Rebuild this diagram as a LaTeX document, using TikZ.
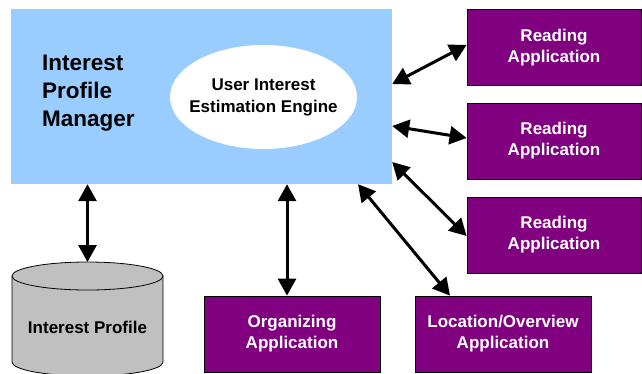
\documentclass[tikz,border=0pt]{standalone}
\usepackage{fontspec}
\setmainfont{Liberation Sans}
\usetikzlibrary{arrows.meta,calc,shapes.geometric}
\definecolor{ipmblue}{HTML}{99CCFF}
\definecolor{apppurple}{HTML}{800080}
\definecolor{cylgray}{HTML}{C0C0C0}
\begin{document}
\begin{tikzpicture}[x=1pt,y=-1pt,
  appbox/.style={draw=black,line width=0.8pt,fill=apppurple,text=white,font=\fontsize{17}{21}\selectfont\bfseries,align=center,inner sep=0pt,minimum width=174pt,minimum height=76pt},
  dbl/.style={line width=3pt,{Triangle[length=17pt,width=18pt]}-{Triangle[length=17pt,width=18pt]},shorten <=0pt,shorten >=0pt}
]
\useasboundingbox (0,0) rectangle (642,373);
% manager box
\node[fill=ipmblue,inner sep=0pt,minimum width=381pt,minimum height=175pt] (ipm) at (201.5,96.5) {};
\node[anchor=west,align=left,inner sep=0pt,font=\fontsize{22.5}{28}\selectfont\bfseries] (ipmlabel) at (42,93) {Interest\\Profile\\Manager};
\node[fill=white,ellipse,inner sep=0pt,minimum width=187pt,minimum height=104pt] (uiee) at (263.5,97) {};
\node[align=center,inner sep=0pt,font=\fontsize{17}{22}\selectfont\bfseries] (uieelabel) at (uiee.center) {User Interest\\Estimation Engine};
% applications
\node[appbox] (r1) at (554,47.5) {Reading\\Application};
\node[appbox] (r2) at (554,141) {Reading\\Application};
\node[appbox] (r3) at (554,235) {Reading\\Application};
\node[appbox,minimum width=176pt] (org) at (292,334) {Organizing\\Application};
\node[appbox,minimum width=176pt] (loc) at (503,334) {Location/Overview\\Application};
% cylinder
\fill[cylgray] (12,276) -- (12,362) arc[start angle=180,end angle=360,x radius=75.5pt,y radius=14pt] -- (163,276) -- cycle;
\draw[line width=0.8pt] (12,276) -- (12,362) arc[start angle=180,end angle=360,x radius=75.5pt,y radius=14pt] -- (163,276);
\draw[line width=0.8pt,fill=cylgray] (87.5,276) ellipse[x radius=75.5pt,y radius=14pt];
\coordinate (cyltop) at (87.5,262);
\node[inner sep=0pt,font=\fontsize{17}{21}\selectfont\bfseries] (cyllabel) at (87.5,327) {Interest Profile};
% arrows
\draw[dbl] (ipm.south -| cyltop) -- (cyltop);
\draw[dbl] (ipm.south -| 287,0) -- (org.north -| 287,0);
\draw[dbl] (ipm.south -| 358,0) -- (loc.north -| 450,0);
\draw[dbl] (ipm.east |- 0,84) -- (r1.west |- 0,45);
\draw[dbl] (ipm.east |- 0,126) -- (r2.west |- 0,138);
\draw[dbl] (ipm.east |- 0,162) -- (r3.west |- 0,236);
\end{tikzpicture}
\end{document}
